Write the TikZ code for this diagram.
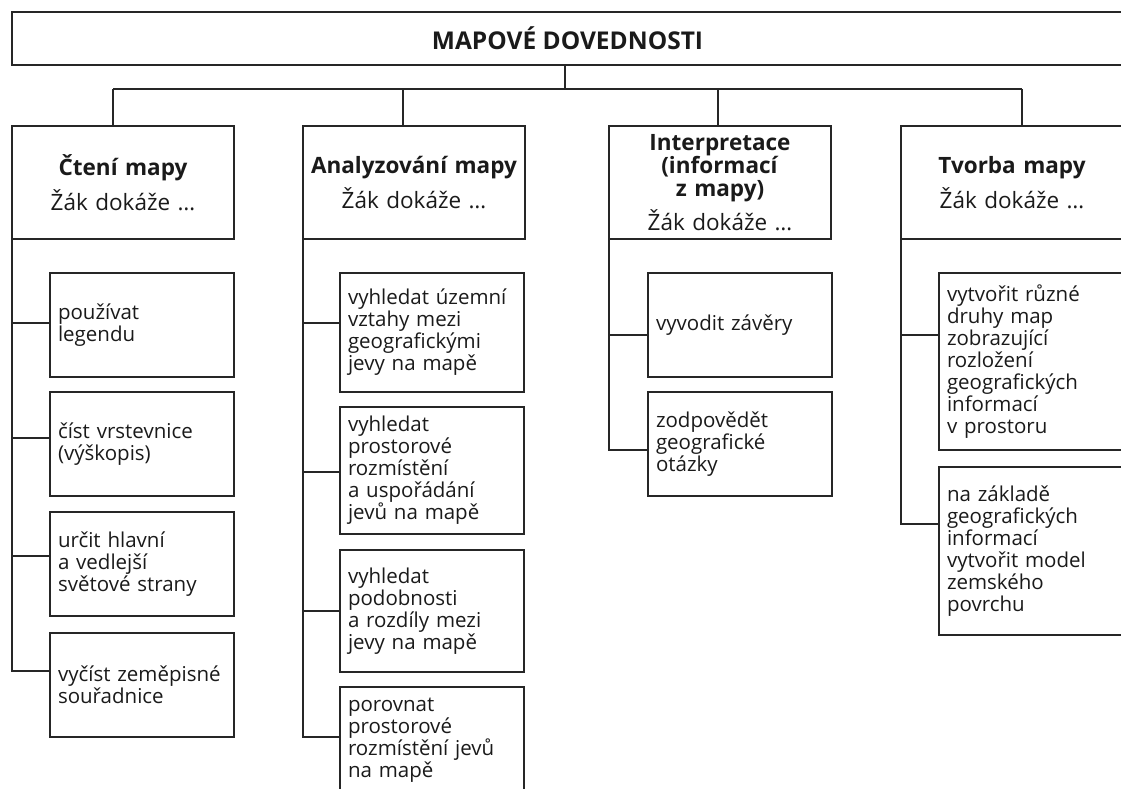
\documentclass[tikz,border=0pt]{standalone}
\usepackage{fontspec}
\setmainfont{Open Sans}
\definecolor{LineDark}{HTML}{262626}
\definecolor{TextDark}{HTML}{1A1A1A}

\begin{document}
\begin{tikzpicture}[x=1pt, y=-1pt,
  line/.style={draw=LineDark, line width=2.2pt},
  mapbox/.style={line, rectangle, anchor=north west, outer sep=0pt,
    inner xsep=8pt, inner ysep=0pt, text=TextDark,
    font=\fontsize{20.5}{22}\selectfont},
  rootbox/.style={mapbox, minimum width=1111pt, minimum height=53pt,
    font=\bfseries\fontsize{24.5}{25}\selectfont},
  catbox/.style={mapbox, minimum height=113pt, text width=206pt, align=center,
    font=\fontsize{22.5}{23}\selectfont},
  skillbox/.style={mapbox, text width=168pt, align=left}]

  \useasboundingbox (0,0) rectangle (1121,789);
  \clip (0,0) rectangle (1121,789);

  % Root
  \node[rootbox] (root) at (12,12) {MAPOVÉ DOVEDNOSTI};

  % Categories
  \node[catbox] (cteni) at (12,126) {\textbf{Čtení mapy}\\[8pt]Žák dokáže …};
  \node[catbox] (analyza) at (303,126) {\textbf{Analyzování mapy}\\[8pt]Žák dokáže …};
  \node[catbox] (interp) at (609,126) {\textbf{Interpretace}\\\textbf{(informací}\\\textbf{z mapy)}\\[6pt]Žák dokáže …};
  \node[catbox] (tvorba) at (901,126) {\textbf{Tvorba mapy}\\[8pt]Žák dokáže …};

  % Bus from root to categories
  \coordinate (hub) at (565,89);
  \coordinate (bus1) at (113,89);
  \coordinate (bus2) at (403,89);
  \coordinate (bus3) at (718,89);
  \coordinate (bus4) at (1022,89);
  \draw[line] (hub |- root.south) -- (hub);
  \draw[line] (bus1) -- (bus4);
  \foreach \b/\c in {bus1/cteni, bus2/analyza, bus3/interp, bus4/tvorba}
    \draw[line] (\b) -- (\b |- \c.north);

  % Cteni mapy
  \node[skillbox, minimum height=104pt] (ctA) at (50,273) {používat\\legendu};
  \node[skillbox, minimum height=104pt] (ctB) at (50,392) {číst vrstevnice\\(výškopis)};
  \node[skillbox, minimum height=104pt] (ctC) at (50,512) {určit hlavní\\a vedlejší\\světové strany};
  \node[skillbox, minimum height=104pt] (ctD) at (50,633) {vyčíst zeměpisné\\souřadnice};

  % Analyzovani mapy
  \node[skillbox, minimum height=119pt] (anA) at (340,273) {vyhledat územní\\vztahy mezi\\geografickými\\jevy na mapě};
  \node[skillbox, minimum height=127pt] (anB) at (340,407) {vyhledat\\prostorové\\rozmístění\\a uspořádání\\jevů na mapě};
  \node[skillbox, minimum height=122pt] (anC) at (340,550) {vyhledat\\podobnosti\\a rozdíly mezi\\jevy na mapě};
  \node[skillbox, minimum height=106pt] (anD) at (340,687) {porovnat\\prostorové\\rozmístění jevů\\na mapě};

  % Interpretace
  \node[skillbox, minimum height=104pt] (inA) at (648,273) {vyvodit závěry};
  \node[skillbox, minimum height=104pt] (inB) at (648,392) {zodpovědět\\geografické\\otázky};

  % Tvorba mapy
  \node[skillbox, minimum height=177pt] (tvA) at (939,273) {vytvořit různé\\druhy map\\zobrazující\\rozložení\\geografických\\informací\\v prostoru};
  \node[skillbox, minimum height=168pt] (tvB) at (939,467) {na základě\\geografických\\informací\\vytvořit model\\zemského\\povrchu};

  % Branches
  \foreach \n/\y in {ctA/323, ctB/438, ctC/556, ctD/671}
    \draw[line] (cteni.south west) |- (\n.west |- 0,\y);
  \foreach \n/\y in {anA/323, anB/472, anC/611, anD/737}
    \draw[line] (analyza.south west) |- (\n.west |- 0,\y);
  \foreach \n/\y in {inA/335, inB/450}
    \draw[line] (interp.south west) |- (\n.west |- 0,\y);
  \foreach \n/\y in {tvA/335, tvB/524}
    \draw[line] (tvorba.south west) |- (\n.west |- 0,\y);
\end{tikzpicture}
\end{document}
